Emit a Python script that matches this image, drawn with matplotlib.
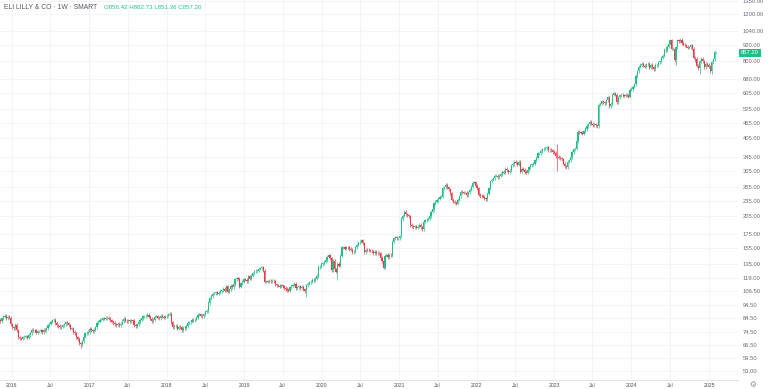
import numpy as np
import pandas as pd
import matplotlib
matplotlib.use("Agg")
import matplotlib.pyplot as plt
import matplotlib.dates as mdates
import matplotlib.transforms as mtransforms
from matplotlib.ticker import NullLocator

# weekly closes (Monday weeks)
first_open = 82.0
closes_2015 = [83.0, 82.0, 84.0, 85.0, 86.0, 84.0, 85.0, 84.3]
closes_2016 = [79.5, 77.5, 77.0, 79.1,
               75.5, 71.0, 70.5, 70.2, 71.0,
               71.5, 71.8, 70.9, 72.5,
               73.5, 76.0, 75.5, 75.5,
               74.0, 75.0, 75.0, 75.5, 74.5,
               76.0, 75.5, 77.0, 78.8,
               80.0, 81.5, 82.5, 82.9,
               80.5, 79.0, 78.5, 77.5, 78.0,
               79.0, 79.5, 81.0, 80.3,
               79.0, 76.5, 77.0, 74.5, 73.5,
               71.0, 70.0, 67.5, 67.0,
               68.5, 71.5, 73.5, 73.5]
closes_2017 = [74.5, 76.5, 75.5, 75.0, 76.0,
               77.5, 80.5, 81.5, 83.0,
               83.0, 84.0, 83.5, 84.1,
               84.5, 83.5, 82.5, 81.5,
               80.5, 79.5, 79.0, 80.0, 79.0,
               80.0, 82.0, 83.5, 82.3,
               82.0, 82.5, 82.0, 82.5, 82.0,
               79.0, 78.5, 79.5, 81.0,
               83.0, 84.0, 85.5, 85.5,
               86.0, 86.5, 85.0, 83.5, 82.0,
               83.0, 85.0, 85.5, 84.5,
               84.0, 86.0, 85.0, 84.5]
closes_2018 = [85.5, 86.0, 86.5, 87.5, 81.0,
               77.5, 78.5, 78.5, 76.5,
               78.0, 77.5, 75.5, 77.4,
               77.0, 78.5, 80.5, 81.0, 81.5,
               83.0, 82.5, 83.0, 84.5,
               86.5, 87.0, 86.0, 85.3,
               87.0, 89.0, 89.5, 96.0, 100.0,
               102.0, 104.0, 104.5, 105.5,
               104.0, 105.0, 106.5, 107.3,
               108.5, 107.0, 111.0, 106.0, 108.0,
               111.5, 110.0, 113.0, 118.0,
               119.0, 118.5, 110.5, 114.0, 115.5]
closes_2019 = [118.0, 117.5, 116.0, 121.0,
               118.5, 122.0, 124.5, 126.5,
               127.0, 127.5, 129.5, 129.8,
               131.0, 127.5, 115.5, 116.0, 115.5,
               116.5, 116.0, 116.5, 116.0,
               113.0, 112.0, 111.5, 110.8,
               112.0, 111.0, 109.5, 108.5, 107.5,
               107.0, 110.0, 111.5, 112.5,
               113.5, 109.0, 110.0, 111.0, 109.5,
               110.5, 108.0, 106.5, 112.0,
               113.5, 115.0, 115.5, 117.5,
               117.0, 118.5, 121.5, 131.5, 132.0]
closes_2020 = [135.0, 136.0, 137.5, 139.5,
               144.0, 145.5, 142.0, 128.0,
               139.0, 129.0, 126.0, 135.0, 133.0,
               145.0, 156.0, 156.0, 154.5,
               156.5, 156.0, 154.0, 153.0,
               149.5, 150.5, 156.0, 160.0, 163.0,
               164.0, 166.0, 162.0, 150.0,
               153.0, 152.5, 152.0, 151.5, 151.0,
               148.5, 150.0, 148.0, 149.0,
               148.5, 142.5, 138.5, 130.5,
               145.0, 146.0, 143.0, 146.5, 145.5,
               164.0, 169.0, 170.5, 168.8]
closes_2021 = [169.0, 172.0, 200.0, 206.0,
               213.0, 208.5, 207.0, 205.0,
               190.0, 187.5, 186.0, 187.5, 185.5,
               187.0, 190.0, 186.0, 183.0,
               195.5, 198.0, 199.0, 201.0, 205.0,
               213.0, 218.0, 230.0, 232.5,
               236.0, 239.0, 243.0, 243.5,
               262.0, 264.5, 270.0, 264.0, 260.0,
               251.0, 237.0, 233.0, 231.0,
               229.0, 237.0, 244.0, 254.0,
               253.0, 252.0, 252.0, 246.0, 253.0,
               259.0, 266.0, 275.0, 276.0]
closes_2022 = [268.0, 262.0, 248.0, 244.0, 245.0,
               243.0, 240.0, 238.0, 250.0,
               262.0, 278.0, 282.0, 286.0,
               292.0, 292.0, 289.0, 292.0,
               297.0, 302.0, 300.0, 310.0, 307.0,
               301.0, 305.0, 320.0, 324.0,
               330.0, 328.0, 322.0, 330.0,
               303.0, 311.0, 308.0, 302.0, 300.0,
               306.0, 315.0, 320.0, 323.0,
               325.0, 334.0, 342.0, 356.0, 356.0,
               363.0, 368.0, 370.0, 372.0,
               375.0, 366.0, 366.0, 365.8]
closes_2023 = [360.0, 357.0, 347.0, 345.0, 342.0,
               340.0, 338.0, 325.0, 318.0,
               315.0, 330.0, 335.0, 343.0,
               360.0, 368.0, 370.0, 396.0,
               430.0, 428.0, 426.0, 422.0, 431.0,
               440.0, 452.0, 458.0, 469.0,
               461.0, 456.0, 458.0, 455.0, 452.0,
               545.0, 549.0, 560.0, 555.0,
               553.0, 565.0, 580.0, 537.0,
               548.0, 595.0, 602.0, 595.0, 556.0,
               580.0, 590.0, 593.0, 592.0,
               588.0, 593.0, 592.0, 583.0]
closes_2024 = [620.0, 625.0, 637.0, 650.0, 700.0,
               730.0, 760.0, 770.0, 780.0,
               765.0, 760.0, 775.0, 778.0,
               752.0, 772.0, 755.0, 741.0, 770.0,
               770.0, 790.0, 796.0, 820.0,
               835.0, 880.0, 875.0, 905.0,
               930.0, 955.0, 890.0, 890.0, 805.0,
               900.0, 955.0, 950.0, 960.0,
               935.0, 920.0, 915.0, 905.0, 895.0,
               900.0, 915.0, 890.0, 820.0,
               815.0, 765.0, 750.0, 795.0,
               815.0, 795.0, 755.0, 780.0, 770.0]
closes_2025 = [760.0, 728.0, 790.0, 810.0,
               865.0, 857.20]

# last bar from the legend: open, high, low, close
last_bar = [856.42, 862.73, 851.36, 857.20]

# weeks with long shadows
extra_lows = {"2016-11-21": 64.5, "2019-10-21": 101.5, "2020-03-16": 117.0,
              "2023-01-16": 305.0, "2024-07-29": 770.0, "2024-10-28": 790.0,
              "2024-11-18": 712.0, "2025-01-13": 712.0}
extra_highs = {"2023-01-16": 385.0}

price_ticks = [1350, 1200, 1040, 920, 800, 680, 605, 525, 465, 405, 345, 305,
               265, 235, 205, 175, 155, 135, 119, 106.5, 94.5, 84.5, 74.5,
               66.5, 59.5, 53]

closes = np.array(closes_2015 + closes_2016 + closes_2017 + closes_2018 +
                  closes_2019 + closes_2020 + closes_2021 + closes_2022 +
                  closes_2023 + closes_2024 + closes_2025)
dates = pd.date_range("2015-11-02", periods=len(closes), freq="7D")
opens = np.r_[first_open, closes[:-1]]
opens[-1] = last_bar[0]
highs = np.maximum(opens, closes) * 1.014
lows = np.minimum(opens, closes) * 0.986
highs[-1] = last_bar[1]
lows[-1] = last_bar[2]
for d, v in extra_lows.items():
    lows[dates.get_loc(pd.Timestamp(d))] = v
for d, v in extra_highs.items():
    highs[dates.get_loc(pd.Timestamp(d))] = v

green = "#1fbf87"
red = "#f23645"
x = mdates.date2num(dates)
up = closes >= opens
cols = np.where(up, green, red)

fig = plt.figure(figsize=(7.68, 3.89), dpi=100)
ax = fig.add_axes([0, 9 / 389, 738 / 768, 380 / 389])
ax.set_yscale("log")

ax.vlines(x, lows, highs, colors=cols, linewidth=0.6, alpha=0.8, zorder=3)
ax.bar(x, np.abs(closes - opens), bottom=np.minimum(opens, closes),
       width=5.6, color=cols, linewidth=0, zorder=4)

# axis ranges (px mapping of the screenshot)
px_per_day = 0.2121
x0 = mdates.date2num(pd.Timestamp("2016-01-01")) - 11.7 / px_per_day
ax.set_xlim(x0, x0 + 738 / px_per_day)
ax.set_ylim(48.9, 1361)

# price scale on the right
ax.yaxis.tick_right()
ax.set_yticks(price_ticks)
ax.set_yticklabels(["%.2f" % t for t in price_ticks])
ax.yaxis.set_minor_locator(NullLocator())
ax.tick_params(axis="y", length=0, pad=3.4, labelsize=4.2, labelcolor="#6a6d78")
for lab in ax.get_yticklabels():
    lab.set_family("Liberation Sans")

# time scale
xt, xl = [], []
for yr in range(2016, 2026):
    xt.append(mdates.date2num(pd.Timestamp(f"{yr}-01-01")))
    xl.append(str(yr))
    if yr < 2025:
        xt.append(mdates.date2num(pd.Timestamp(f"{yr}-07-01")))
        xl.append("Jul")
ax.set_xticks(xt)
ax.set_xticklabels(xl)
ax.tick_params(axis="x", length=0, pad=2.0, labelsize=3.7, labelcolor="#4a4d57")
for lab in ax.get_xticklabels():
    lab.set_family("Liberation Sans")

ax.grid(True, color="#f1f2f5", linewidth=0.6, zorder=0)
for s in ["top", "right", "left"]:
    ax.spines[s].set_visible(False)
ax.spines["bottom"].set_color("#e0e3eb")
ax.spines["bottom"].set_linewidth(0.7)

# last price badge
tr = mtransforms.blended_transform_factory(ax.transAxes, ax.transData)
ax.text(1.0 + 3.0 / 738, last_bar[3], "%.2f" % last_bar[3], transform=tr,
        ha="left", va="center", fontsize=4.2, color="white",
        family="Liberation Sans",
        bbox=dict(boxstyle="square,pad=0.3", fc=green, ec="none"))

# header
fig.text(4 / 768, 1 - 7.5 / 389, "ELI LILLY & CO · 1W · SMART", fontsize=4.85,
         color="#555862", family="Liberation Sans", ha="left", va="center")
fig.text(104 / 768, 1 - 7.5 / 389, "O856.42 H862.73 L851.36 C857.20",
         fontsize=4.4, color="#22c18a", family="Liberation Sans",
         ha="left", va="center")

fig.text(753 / 768, 1 - 384 / 389, "⚙", fontsize=5.5, color="#8a8d96",
         family="DejaVu Sans", ha="center", va="center")

plt.savefig("out.png", dpi=100)
